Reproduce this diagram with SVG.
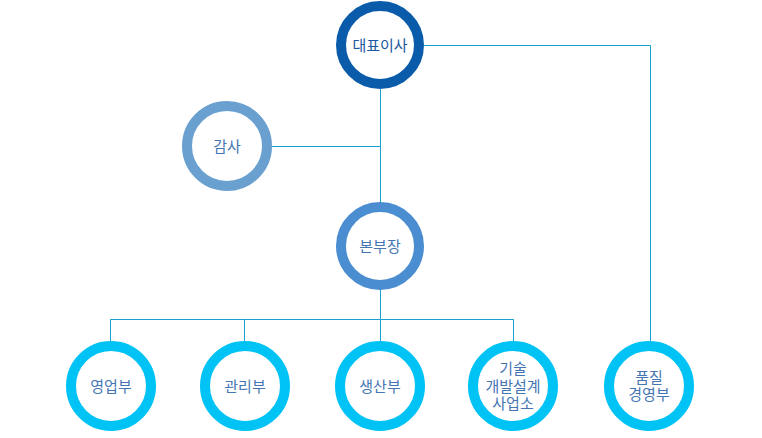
<svg xmlns="http://www.w3.org/2000/svg" width="762" height="438" viewBox="0 0 762 438">
<style>
.ring{fill:#fff;stroke-width:10}
.ceo{stroke:#0a5caa}
.audit{stroke:#6aa0d0}
.hq{stroke:#4a8dd0}
.dept{stroke:#00c3f5}
.lbl{font-family:"Noto Sans CJK KR","Noto Sans",sans-serif;font-size:15px;fill:#4576b4;text-anchor:middle}
.lbl.dark{fill:#1a58a0}
.conn{fill:none;stroke:#1a9fd2;stroke-width:1}
</style>
<rect width="762" height="438" fill="#fff"/>
<g id="connectors">
<path class="conn" d="M380.5 89V203M424 45.5H650.5V343M272 146.5H380.5M110.5 341V319.5H513.5V341M244.5 319.5V341M380.5 289V341"/>
</g>
<g id="ceo"><circle class="ring ceo" cx="380" cy="45" r="39"/><text class="lbl dark" x="380" y="50.5">대표이사</text></g>
<g id="audit"><circle class="ring audit" cx="227" cy="146" r="40"/><text class="lbl" x="227" y="151.5">감사</text></g>
<g id="hq"><circle class="ring hq" cx="380" cy="246" r="39"/><text class="lbl" x="380" y="251.5">본부장</text></g>
<g id="sales"><circle class="ring dept" cx="111" cy="386" r="40"/><text class="lbl" x="111" y="391.5">영업부</text></g>
<g id="admin"><circle class="ring dept" cx="245" cy="386" r="40"/><text class="lbl" x="245" y="391.5">관리부</text></g>
<g id="production"><circle class="ring dept" cx="380" cy="386" r="40"/><text class="lbl" x="380" y="391.5">생산부</text></g>
<g id="tech"><circle class="ring dept" cx="513" cy="386" r="40"/><text class="lbl" x="513" y="374">기술</text><text class="lbl" x="513" y="391.5">개발설계</text><text class="lbl" x="513" y="409">사업소</text></g>
<g id="quality"><circle class="ring dept" cx="649" cy="386" r="40"/><text class="lbl" x="649" y="383">품질</text><text class="lbl" x="649" y="400">경영부</text></g>
</svg>
